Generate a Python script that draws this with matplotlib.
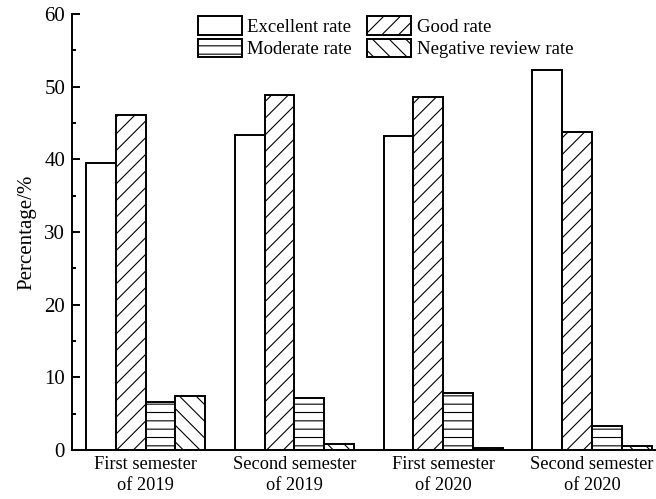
import numpy as np
import matplotlib
matplotlib.use('Agg')
import matplotlib.pyplot as plt

plt.rcParams['font.family'] = ['Liberation Serif', 'DejaVu Serif']
plt.rcParams['font.size'] = 14
plt.rcParams['hatch.linewidth'] = 0.8

semesters = ['First semester\nof 2019', 'Second semester\nof 2019',
             'First semester\nof 2020', 'Second semester\nof 2020']
series = ['Excellent rate', 'Good rate', 'Moderate rate', 'Negative review rate']
excellent = [39.5, 43.3, 43.2, 52.3]
good = [46.1, 48.8, 48.6, 43.8]
moderate = [6.6, 7.1, 7.9, 3.3]
negative = [7.4, 0.8, 0.3, 0.5]

values = [excellent, good, moderate, negative]
hatches = ['', '//', '--', '\\\\']

fig = plt.figure(figsize=(6.56, 4.99), dpi=100)
ax = fig.add_axes([0.1098, 0.0982, 0.8902, 0.8738])

x = np.arange(len(semesters))
width = 0.2
offsets = [-0.3, -0.1, 0.1, 0.3]
bars = []
for vals, name, h, off in zip(values, series, hatches, offsets):
    b = ax.bar(x + off, vals, width, label=name, facecolor='white',
               edgecolor='black', linewidth=1.4, hatch=h)
    bars.append(b)

ax.set_xlim(-0.494, 3.43)
ax.set_ylim(0, 60)
ax.set_yticks([0, 10, 20, 30, 40, 50, 60])
ax.set_yticks(np.arange(5, 60, 10), minor=True)
ax.set_xticks(x)
ax.set_xticklabels(semesters, linespacing=1.35)
ax.tick_params(axis='y', direction='in', length=6, width=1.4, labelsize=15, pad=5)
ax.tick_params(axis='y', which='minor', direction='in', length=3, width=1.4)
ax.tick_params(axis='x', length=0, pad=4, labelsize=13.2)
ax.set_ylabel('Percentage/%', fontsize=15, labelpad=6)

for s in ['top', 'right']:
    ax.spines[s].set_visible(False)
for s in ['left', 'bottom']:
    ax.spines[s].set_linewidth(1.4)

# legend reads row-wise: excellent, good / moderate, negative
order = [0, 2, 1, 3]
ax.legend([bars[i] for i in order], [series[i] for i in order],
          ncol=2, loc='upper left', bbox_to_anchor=(0.215, 0.995),
          frameon=False, fontsize=13.5, handlelength=2.35, handleheight=1.15,
          columnspacing=0.8, handletextpad=0.3, labelspacing=0.15,
          borderaxespad=0.0, borderpad=0.0)

fig.savefig('out.png', dpi=100)
